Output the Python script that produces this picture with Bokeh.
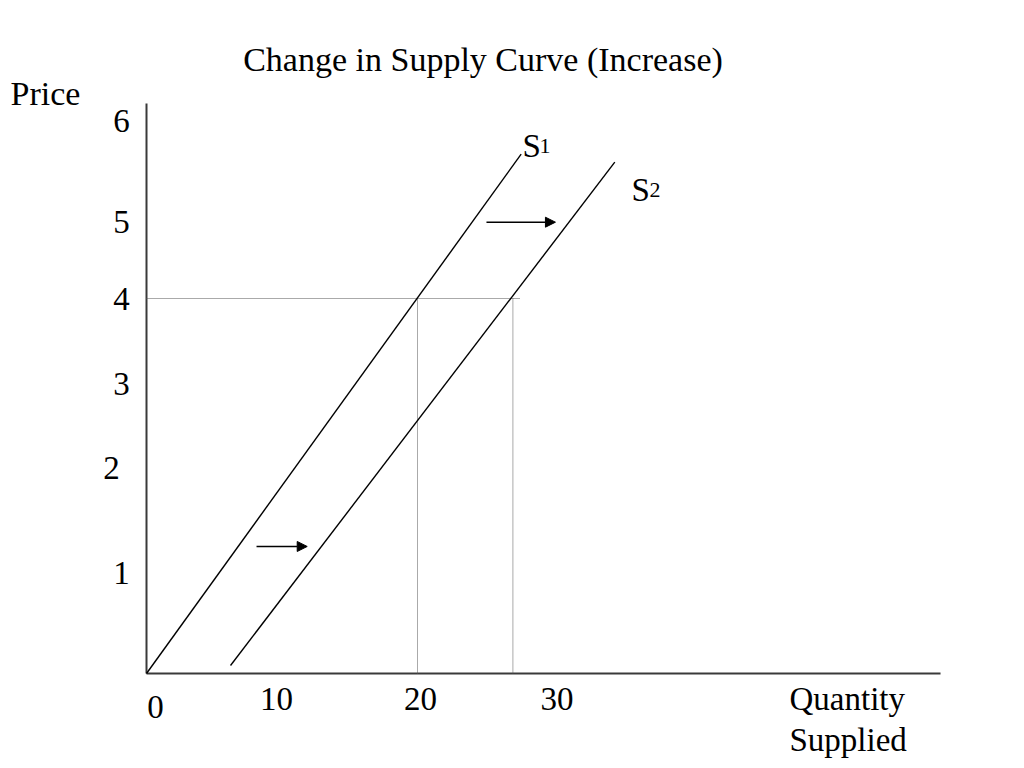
from bokeh.plotting import figure
from bokeh.models import Label, Arrow, NormalHead, ColumnDataSource, Range1d
from bokeh.core.properties import value
from bokeh.embed import file_html
from bokeh.resources import INLINE

# ---------------- data ----------------
s1_quantity = [0.0, 27.65]
s1_price = [0.0, 5.54]
s2_quantity = [6.2, 34.56]
s2_price = [0.085, 5.454]

eq_price = 4
eq_q1 = 20
eq_q2 = 27.04

y_ticks = [6, 5, 4, 3, 2, 1]
y_tick_labels = ["6", "5", "4", "3", "2", "1"]
x_ticks = [0, 10, 20, 30]
x_tick_labels = ["0", "10", "20", "30"]

arrow_x_start = [25.09, 8.12]
arrow_x_end = [30.18, 11.86]
arrow_y = [4.814, 1.355]

# ---------------- styling ----------------
FONT = "Liberation Serif"
W, H = 1008, 760
# pixel offsets of the hand-placed tick labels
y_lab_xoff = [0, 0, 0, 0, -10, 0]
y_lab_yoff = [9.5, 16.75, 0, -8.75, -18.5, -7.25]
x_lab_xoff = [9, -5.5, 3, 4]
x_lab_yoff = [33, 25, 25, 25]

p = figure(width=W, height=H, output_backend="svg", toolbar_location=None,
           x_axis_location=None, y_axis_location=None, min_border=0,
           x_range=Range1d(-10.775, 63.616), y_range=Range1d(-0.928, 7.1787))
p.outline_line_color = None
p.grid.visible = False
p.background_fill_color = "white"
p.border_fill_color = "white"

# axes lines
p.segment(x0=[0, 0], y0=[0, 0], x1=[0, 58.6], y1=[6.08, 0],
          line_color="#3a3a3a", line_width=2)

# guide dotted lines
p.segment(x0=[0, eq_q1, eq_q2], y0=[eq_price, 0, 0],
          x1=[27.6, eq_q1, eq_q2], y1=[eq_price, eq_price, eq_price],
          line_color="#555555", line_width=1, line_dash="1 1")

# supply curves
p.line(s1_quantity, s1_price, line_color="black", line_width=1.4)
p.line(s2_quantity, s2_price, line_color="black", line_width=1.4)

# shift arrows
for xs, xe, y in zip(arrow_x_start, arrow_x_end, arrow_y):
    p.add_layout(Arrow(end=NormalHead(size=10, fill_color="black", line_color="black"),
                       x_start=xs, y_start=y, x_end=xe, y_end=y,
                       line_color="black", line_width=1.5))

# tick labels
ysrc = ColumnDataSource(dict(x=[-1.845] * len(y_ticks), y=y_ticks, t=y_tick_labels,
                             xo=y_lab_xoff, yo=y_lab_yoff))
p.text(x="x", y="y", text="t", x_offset="xo", y_offset="yo", source=ysrc,
       text_font=value(FONT), text_font_size="33px", text_color="black",
       text_align="center", text_baseline="middle")
xsrc = ColumnDataSource(dict(x=x_ticks, y=[0] * len(x_ticks), t=x_tick_labels,
                             xo=x_lab_xoff, yo=x_lab_yoff))
p.text(x="x", y="y", text="t", x_offset="xo", y_offset="yo", source=xsrc,
       text_font=value(FONT), text_font_size="33px", text_color="black",
       text_align="center", text_baseline="middle")

def lab(txt, px, py, size="34px", align="left", baseline="middle"):
    p.add_layout(Label(x=px, y=H - py, x_units="screen", y_units="screen",
                       text=txt, text_font=FONT, text_font_size=size,
                       text_color="black", text_align=align, text_baseline=baseline))

lab("Change in Supply Curve (Increase)", 482.5, 59, align="center")
lab("Price", 45, 93, align="center")
lab("Quantity", 789, 698, size="33px")
lab("Supplied", 789, 739, size="33px")
lab("S", 522, 145, size="33px", baseline="alphabetic")
lab("1", 539, 145, size="22px", baseline="alphabetic")
lab("S", 631, 189.5, size="33px", baseline="alphabetic")
lab("2", 649, 189.5, size="22px", baseline="alphabetic")

open("out.html", "w").write(file_html(p, INLINE))
